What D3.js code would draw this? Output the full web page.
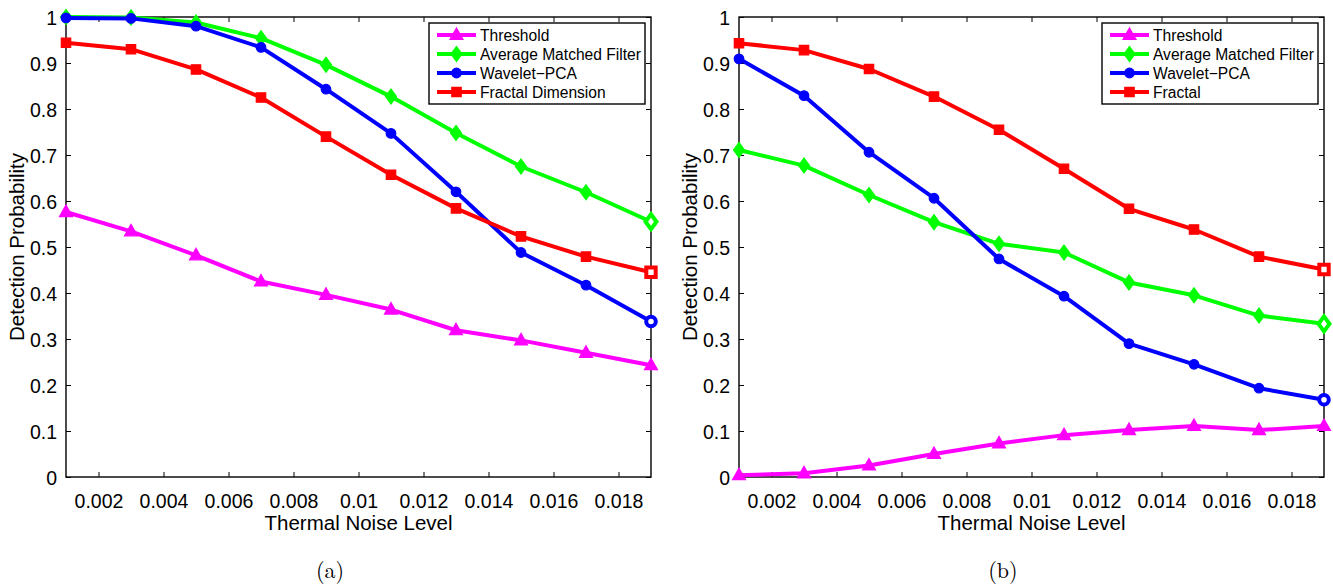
<!DOCTYPE html>
<html><head><meta charset="utf-8">
<script src="https://cdn.jsdelivr.net/npm/d3@7"></script>
<style>
html,body{margin:0;padding:0;background:#fff;}
svg{display:block;}
text{font-family:"Liberation Sans",Arial,Helvetica,sans-serif;fill:#000;}
</style></head>
<body>
<svg id="chart" width="1333" height="586"></svg>
<script>
// ---------- data ----------
const noiseLevels = [0.001,0.003,0.005,0.007,0.009,0.011,0.013,0.015,0.017,0.019];
const xTickValues = [0.002,0.004,0.006,0.008,0.010,0.012,0.014,0.016,0.018];
const xTickLabels = ["0.002","0.004","0.006","0.008","0.01","0.012","0.014","0.016","0.018"];
const yTickValues = [0,0.1,0.2,0.3,0.4,0.5,0.6,0.7,0.8,0.9,1];
const yTickLabels = ["0","0.1","0.2","0.3","0.4","0.5","0.6","0.7","0.8","0.9","1"];

// panel (a)
const thresholdA = [0.576,0.534,0.482,0.425,0.396,0.364,0.319,0.297,0.270,0.243];
const amfA       = [1.000,0.999,0.988,0.954,0.896,0.827,0.748,0.675,0.619,0.555];
const waveletA   = [0.998,0.997,0.980,0.934,0.843,0.747,0.620,0.488,0.417,0.338];
const fractalA   = [0.944,0.930,0.886,0.825,0.740,0.657,0.584,0.523,0.479,0.445];
const legendA    = ["Threshold","Average Matched Filter","Wavelet\u2212PCA","Fractal Dimension"];

// panel (b)
const thresholdB = [0.004,0.008,0.025,0.050,0.073,0.091,0.102,0.111,0.102,0.111];
const amfB       = [0.711,0.677,0.613,0.554,0.507,0.488,0.423,0.395,0.351,0.333];
const waveletB   = [0.909,0.829,0.706,0.606,0.474,0.393,0.290,0.245,0.193,0.168];
const fractalB   = [0.943,0.928,0.887,0.827,0.755,0.670,0.583,0.538,0.479,0.451];
const legendB    = ["Threshold","Average Matched Filter","Wavelet\u2212PCA","Fractal"];

const seriesColors  = ["#ff00ff","#00ff00","#0000ff","#ff0000"];
const seriesMarkers = ["triangle","diamond","circle","square"];

const xLabel = "Thermal Noise Level";
const yLabel = "Detection Probability";

// ---------- drawing ----------
const svg = d3.select("#chart");
svg.append("rect").attr("width",1333).attr("height",586).attr("fill","#fff");

function markerPath(type){
  switch(type){
    case "triangle": return "M0,-7L6.5,4.5L-6.5,4.5Z";
    case "diamond":  return "M0,-7.5L5.5,0L0,7.5L-5.5,0Z";
    case "square":   return "M-4.7,-4.7H4.7V4.7H-4.7Z";
    case "circle":   return d3.symbol().type(d3.symbolCircle).size(Math.PI*4.8*4.8)();
  }
}

function drawPanel(cfg){
  const g = svg.append("g");
  const x = d3.scaleLinear().domain([0.001,0.019]).range([cfg.left,cfg.right]);
  const y = d3.scaleLinear().domain([0,1]).range([cfg.bottom,cfg.top]);

  const fmtX = d => xTickLabels[xTickValues.indexOf(d)];
  const fmtY = d => yTickLabels[yTickValues.indexOf(d)];
  const bottom = g.append("g").attr("transform",`translate(0,${cfg.bottom})`)
    .call(d3.axisBottom(x).tickValues(xTickValues).tickFormat(fmtX).tickSizeInner(-5).tickSizeOuter(0).tickPadding(17));
  const top = g.append("g").attr("transform",`translate(0,${cfg.top})`)
    .call(d3.axisTop(x).tickValues(xTickValues).tickFormat("").tickSizeInner(-5).tickSizeOuter(0));
  const left = g.append("g").attr("transform",`translate(${cfg.left},0)`)
    .call(d3.axisLeft(y).tickValues(yTickValues).tickFormat(fmtY).tickSizeInner(-5).tickSizeOuter(0).tickPadding(9));
  const right = g.append("g").attr("transform",`translate(${cfg.right},0)`)
    .call(d3.axisRight(y).tickValues(yTickValues).tickFormat("").tickSizeInner(-5).tickSizeOuter(0));
  [bottom,top,left,right].forEach(a=>{
    a.select(".domain").remove();
    a.selectAll(".tick line").attr("stroke","#000").attr("stroke-width",1);
    a.selectAll(".tick text").style("font-size","19.5px").style("font-family","'Liberation Sans',Arial,sans-serif").attr("fill","#000");
  });
  left.selectAll(".tick text").attr("dy","0.36em");
  bottom.selectAll(".tick text").attr("dy","0.71em");

  g.append("rect").attr("x",cfg.left).attr("y",cfg.top)
    .attr("width",cfg.right-cfg.left).attr("height",cfg.bottom-cfg.top)
    .attr("fill","none").attr("stroke","#000").attr("stroke-width",1.4);

  g.append("text").attr("x",(cfg.left+cfg.right)/2).attr("y",530)
    .attr("text-anchor","middle").style("font-size","20.5px").text(xLabel);
  g.append("text").attr("transform",`translate(${cfg.left-49},${(cfg.top+cfg.bottom)/2}) rotate(-90)`)
    .attr("text-anchor","middle").attr("dy","0.36em").style("font-size","20.5px").text(yLabel);
  g.append("text").attr("x",cfg.captionX).attr("y",578).attr("text-anchor","middle")
    .style("font-family","'Latin Modern Roman','Liberation Serif','DejaVu Serif',serif")
    .style("font-size","22px").text(cfg.caption);

  const line = d3.line().x((d,i)=>x(noiseLevels[i])).y(d=>y(d));
  cfg.series.forEach((vals,k)=>{
    const col = seriesColors[k];
    g.append("path").datum(vals).attr("d",line)
      .attr("fill","none").attr("stroke",col).attr("stroke-width",4)
      .attr("stroke-linejoin","round");
    const isHollow = i => i===vals.length-1 && seriesMarkers[k]!=="triangle";
    g.selectAll(null).data(vals).enter().append("path")
      .attr("transform",(d,i)=>`translate(${x(noiseLevels[i])},${y(d)})`)
      .attr("d",markerPath(seriesMarkers[k]))
      .attr("fill",(d,i)=> isHollow(i) ? "#fff" : col)
      .attr("stroke",col)
      .attr("stroke-width",(d,i)=> isHollow(i) ? 4 : 1.2);
  });

  const L = cfg.legend;
  g.append("rect").attr("x",L.x).attr("y",L.y).attr("width",L.w).attr("height",L.h)
    .attr("fill","#fff").attr("stroke","#000").attr("stroke-width",1.4);
  cfg.names.forEach((name,k)=>{
    const yy = L.y + 12 + k*19;
    const col = seriesColors[k];
    g.append("line").attr("x1",L.x+8).attr("x2",L.x+47).attr("y1",yy).attr("y2",yy)
      .attr("stroke",col).attr("stroke-width",4);
    g.append("path").attr("transform",`translate(${L.x+27.5},${yy})`)
      .attr("d",markerPath(seriesMarkers[k])).attr("fill",col).attr("stroke",col).attr("stroke-width",1.2);
    g.append("text").attr("x",L.x+51).attr("y",yy).attr("dy","0.36em")
      .style("font-size","15.6px").text(name);
  });
}

drawPanel({left:66,right:651,top:17,bottom:477,caption:"(a)",captionX:330,
  series:[thresholdA,amfA,waveletA,fractalA],names:legendA,
  legend:{x:429,y:23,w:216,h:81}});
drawPanel({left:739,right:1324,top:17,bottom:477,caption:"(b)",captionX:1003,
  series:[thresholdB,amfB,waveletB,fractalB],names:legendB,
  legend:{x:1102,y:23,w:216,h:81}});
</script>
</body></html>
